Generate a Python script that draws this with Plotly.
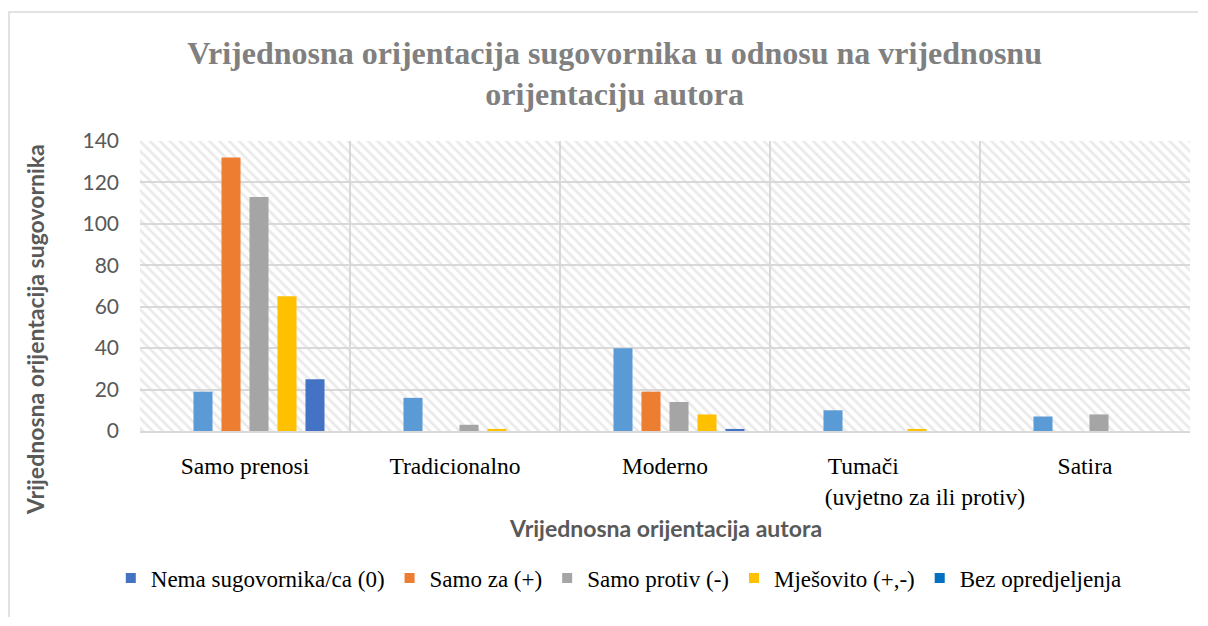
import plotly.graph_objects as go

# ---------------- data ----------------
CATEGORIES = [
    "Samo prenosi",
    "Tradicionalno",
    "Moderno",
    "Tumači" + "\u00a0" * 4 + "<br>" + "\u00a0" * 17 + "(uvjetno za ili protiv)",
    "Satira",
]
SERIES_EMPTY = [None, None, None, None, None]
NEMA_SUGOVORNIKA = [19, 16, 40, 10, 7]
SAMO_ZA = [132, 0, 19, 0, 0]
SAMO_PROTIV = [113, 3, 14, 0, 8]
MJESOVITO = [65, 1, 8, 1, 0]
BEZ_OPREDJELJENJA = [25, 0, 1, 0, 0]

BAR_SERIES = [SERIES_EMPTY, NEMA_SUGOVORNIKA, SAMO_ZA, SAMO_PROTIV, MJESOVITO, BEZ_OPREDJELJENJA]
BAR_NAMES = ["", "Nema sugovornika/ca (0)", "Samo za (+)", "Samo protiv (-)",
             "Mješovito (+,-)", "Bez opredjeljenja"]
BAR_COLORS = ["#4472C4", "#5B9BD5", "#ED7D31", "#A5A5A5", "#FFC000", "#4472C4"]

LEGEND_NAMES = ["Nema sugovornika/ca (0)", "Samo za (+)", "Samo protiv (-)",
                "Mješovito (+,-)", "Bez opredjeljenja"]
LEGEND_COLORS = ["#4472C4", "#ED7D31", "#A5A5A5", "#FFC000", "#0070C0"]

Y_MAX = 140
Y_STEP = 20

TITLE = "Vrijednosna orijentacija sugovornika u odnosu na vrijednosnu<br>orijentaciju autora"
X_TITLE = "Vrijednosna orijentacija autora"
Y_TITLE = "Vrijednosna orijentacija sugovornika"

SERIF = "Liberation Serif, Times New Roman, serif"
SANS = "Lato, Open Sans, sans-serif"
GRID = "#D9D9D9"

W, H = 1192, 610
ML, MR, MT, MB = 132, 10, 133, 187
PW, PH = W - ML - MR, H - MT - MB

fig = go.Figure()

# hatched plot-area background (styling layer on a hidden base axis)
fig.add_trace(go.Bar(
    x=[0.5], y=[Y_MAX], width=[1], offset=-0.5,
    xaxis="x", yaxis="y",
    marker=dict(color="rgba(0,0,0,0)", line=dict(width=0),
                pattern=dict(shape="\\", fgcolor="#D6D6D6", bgcolor="rgba(0,0,0,0)",
                             size=7, solidity=0.4)),
    showlegend=False, hoverinfo="skip",
))

# data bars
for vals, name, color in zip(BAR_SERIES, BAR_NAMES, BAR_COLORS):
    fig.add_trace(go.Bar(
        x=CATEGORIES, y=vals, name=name, xaxis="x2", yaxis="y",
        marker=dict(color=color, line=dict(width=0)),
        showlegend=False,
    ))

# legend entries
for name, color in zip(LEGEND_NAMES, LEGEND_COLORS):
    fig.add_trace(go.Scatter(
        x=[None], y=[None], mode="markers", name=name, xaxis="x2", yaxis="y",
        marker=dict(symbol="square", size=10, color=color),
    ))

bx0 = (1 - ML) / PW
by1 = (PH + MT - 4) / PH
by0 = -(MB - 1) / PH
bx1 = (W - 2 - ML) / PW
fig.update_layout(
    width=W, height=H,
    margin=dict(l=ML, r=MR, t=MT, b=MB, autoexpand=False),
    paper_bgcolor="white", plot_bgcolor="white",
    barmode="group", bargap=0.2, bargroupgap=0.32,
    title=dict(text=TITLE, x=0.452, xref="paper", xanchor="center",
               y=0.909, yref="container", yanchor="top",
               font=dict(family=SERIF, size=32, color="#808080", weight="bold")),
    xaxis=dict(range=[0, 1], visible=False, fixedrange=True),
    xaxis2=dict(type="category", overlaying="x", anchor="y", side="bottom",
                showgrid=True, gridcolor=GRID, gridwidth=1.5,
                tickson="boundaries", ticks="", ticklabelstandoff=13,
                tickangle=0, automargin=False,
                showline=True, linecolor=GRID, linewidth=2,
                tickfont=dict(family=SERIF, size=23.5, color="black")),
    yaxis=dict(range=[0, Y_MAX], dtick=Y_STEP, showgrid=True, gridcolor=GRID, gridwidth=1.5,
               zeroline=False, ticks="", ticklabelstandoff=20, automargin=False,
               tickfont=dict(family=SANS, size=21, color="#595959")),
    legend=dict(orientation="h", x=0.456, xanchor="center", xref="paper",
                y=-0.507, yanchor="middle", yref="paper",
                font=dict(family=SERIF, size=23, color="black"),
                itemwidth=30, tracegroupgap=0),
    annotations=[
        dict(text=Y_TITLE, textangle=-90, xref="paper", yref="paper",
             x=-0.1, y=0.348, xanchor="center", yanchor="middle", showarrow=False,
             font=dict(family=SANS, size=23, color="#595959", weight="bold")),
        dict(text=X_TITLE, xref="paper", yref="paper",
             x=0.5, y=-0.334, xanchor="center", yanchor="middle", showarrow=False,
             font=dict(family=SANS, size=23, color="#595959", weight="bold")),
    ],
    shapes=[
        dict(type="path", xref="paper", yref="paper",
             path=f"M {bx0},{by0} L {bx0},{by1} L {bx1},{by1}",
             line=dict(color=GRID, width=1.5), fillcolor="rgba(0,0,0,0)", layer="below"),
    ],
)

fig.write_html("out.html")
